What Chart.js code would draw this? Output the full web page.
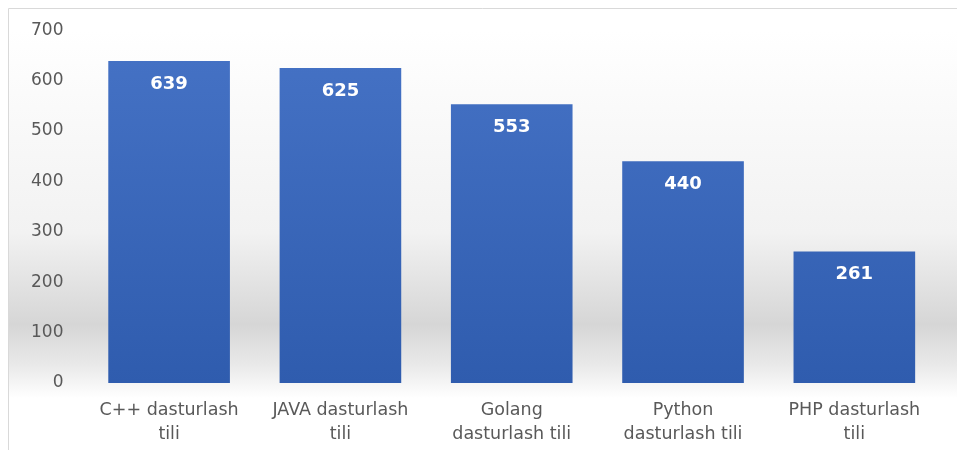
<!DOCTYPE html>
<html>
<head>
<meta charset="utf-8">
<script src="https://cdn.jsdelivr.net/npm/chart.js@4"></script>
<style>
  html, body { margin: 0; padding: 0; background: #fff; }
  #wrap { width: 957px; height: 450px; position: relative; }
</style>
</head>
<body>
<div id="wrap"><canvas id="myChart"></canvas></div>
<script>
// chart data
const categories = [
  ['C++ dasturlash', 'tili'],
  ['JAVA dasturlash', 'tili'],
  ['Golang', 'dasturlash tili'],
  ['Python', 'dasturlash tili'],
  ['PHP dasturlash', 'tili']
];
const values = [639, 625, 553, 440, 261];
const yTicks = [0, 100, 200, 300, 400, 500, 600, 700];

// grey backdrop + frame
const backdrop = {
  id: 'backdrop',
  beforeDraw(chart) {
    const { ctx, chartArea } = chart;
    const y0 = chart.scales.y.getPixelForValue(0);
    const g = ctx.createLinearGradient(0, chartArea.top, 0, y0 + 15);
    g.addColorStop(0, '#ffffff');
    g.addColorStop(0.55, '#f2f2f2');
    g.addColorStop(0.8, '#d6d6d6');
    g.addColorStop(0.91, '#e9e9e9');
    g.addColorStop(1, '#ffffff');
    ctx.save();
    ctx.fillStyle = g;
    ctx.fillRect(9, chartArea.top, chart.width - 9, y0 + 15 - chartArea.top);
    ctx.strokeStyle = '#d9d9d9';
    ctx.lineWidth = 1;
    ctx.beginPath();
    ctx.moveTo(8.5, chart.height);
    ctx.lineTo(8.5, 8.5);
    ctx.lineTo(chart.width, 8.5);
    ctx.stroke();
    ctx.restore();
  }
};

// white value labels inside bar tops
const valueLabels = {
  id: 'valueLabels',
  afterDatasetsDraw(chart) {
    const { ctx } = chart;
    const meta = chart.getDatasetMeta(0);
    ctx.save();
    ctx.fillStyle = '#ffffff';
    ctx.font = 'bold 18px "DejaVu Sans"';
    ctx.textAlign = 'center';
    ctx.textBaseline = 'middle';
    meta.data.forEach((bar, i) => {
      ctx.fillText(values[i], bar.x, bar.y + 23);
    });
    ctx.restore();
  }
};

const ctx = document.getElementById('myChart').getContext('2d');
new Chart(ctx, {
  type: 'bar',
  data: {
    labels: categories,
    datasets: [{
      data: values,
      backgroundColor: (c) => {
        const area = c.chart.chartArea;
        if (!area) return '#4472c4';
        const g = c.chart.ctx.createLinearGradient(0, area.top, 0, area.bottom);
        g.addColorStop(0, '#4673c6');
        g.addColorStop(1, '#2f5cae');
        return g;
      },
      borderWidth: 0,
      barPercentage: 0.71,
      categoryPercentage: 1
    }]
  },
  options: {
    responsive: true,
    maintainAspectRatio: false,
    animation: false,
    layout: { padding: { left: 11, right: 17, top: 25, bottom: -11 } },
    plugins: {
      legend: { display: false },
      tooltip: { enabled: false }
    },
    scales: {
      x: {
        grid: { display: false, drawTicks: false },
        border: { display: false },
        ticks: {
          color: '#595959',
          font: { family: 'DejaVu Sans', size: 17.5, lineHeight: 1.37 },
          padding: 15,
          maxRotation: 0
        }
      },
      y: {
        min: 0,
        max: 700,
        afterBuildTicks: (axis) => { axis.ticks = yTicks.map(v => ({ value: v })); },
        grid: { display: false, drawTicks: false },
        border: { display: false },
        ticks: {
          color: '#595959',
          font: { family: 'DejaVu Sans', size: 17 },
          padding: 20
        }
      }
    }
  },
  plugins: [backdrop, valueLabels]
});
</script>
</body>
</html>
